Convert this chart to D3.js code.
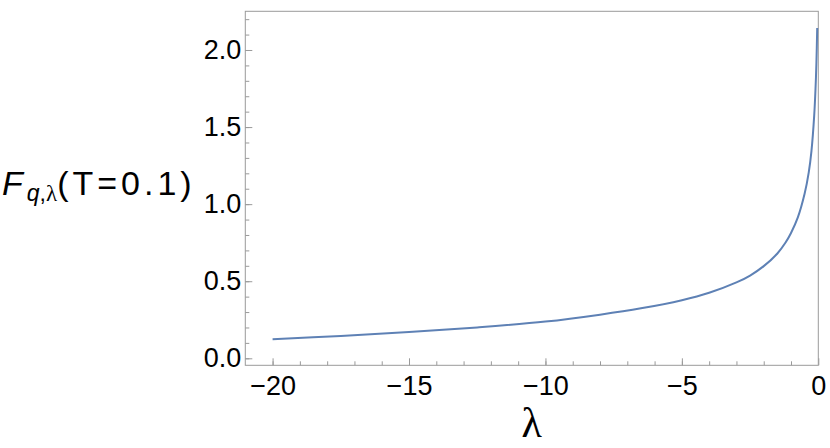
<!DOCTYPE html>
<html>
<head>
<meta charset="utf-8">
<script src="https://cdn.jsdelivr.net/npm/d3@7"></script>
<style>
  body { margin: 0; background: #fff; }
  svg { display: block; }
</style>
</head>
<body>
<script>
// values
var lambdaVals = [-20, -17.5, -15, -12.5, -10, -8, -6.5, -5, -4, -3, -2.5, -2, -1.5, -1.2, -1, -0.75, -0.5, -0.35, -0.25, -0.15, -0.1, -0.07, -0.04];
var fVals      = [0.123, 0.145, 0.170, 0.200, 0.238, 0.283, 0.324, 0.377, 0.425, 0.492, 0.537, 0.598, 0.680, 0.751, 0.813, 0.914, 1.069, 1.206, 1.346, 1.576, 1.758, 1.911, 2.143];
var xTicks = [-20, -15, -10, -5, 0];
var yTicks = [0, 0.5, 1, 1.5, 2];

var width = 830,
    height = 448,
    margin = {left: 245.3, right: 11.7, top: 11.3, bottom: 82.7};

var x = d3.scaleLinear()
        .domain([-21, 0])
        .range([margin.left, width - margin.right]);

var y = d3.scaleLinear()
        .domain([-0.0454, 2.251])
        .range([height - margin.bottom, margin.top]);

var svg = d3.select("body").append("svg")
        .attr("width", width)
        .attr("height", height)
        .style("font-family", "'Liberation Sans', Arial, sans-serif");

var tickColor = "#9a9a9a";

// minor ticks
svg.append("g")
    .attr("transform", "translate(0," + y.range()[0] + ")")
    .call(d3.axisBottom(x).tickValues(d3.range(-20, 0, 1)).tickSize(-4).tickFormat(""))
    .call(function (g) { g.select(".domain").remove(); g.selectAll("line").attr("stroke", tickColor); });

svg.append("g")
    .attr("transform", "translate(" + x.range()[0] + ",0)")
    .call(d3.axisLeft(y).tickValues(d3.range(0, 2.25, 0.1)).tickSize(-4).tickFormat(""))
    .call(function (g) { g.select(".domain").remove(); g.selectAll("line").attr("stroke", tickColor); });

// major ticks + labels
var xAxis = svg.append("g")
    .attr("transform", "translate(0," + y.range()[0] + ")")
    .call(d3.axisBottom(x).tickValues(xTicks).tickSize(-7).tickPadding(11)
        .tickFormat(function (d) { return d < 0 ? "\u2212" + Math.abs(d) : "0"; }));
xAxis.select(".domain").remove();
xAxis.selectAll("line").attr("stroke", tickColor);
xAxis.selectAll("text")
    .attr("fill", "#000")
    .style("font-size", "27px")
    .style("font-family", "'Liberation Sans', Arial, sans-serif");

var yAxis = svg.append("g")
    .attr("transform", "translate(" + x.range()[0] + ",0)")
    .call(d3.axisLeft(y).tickValues(yTicks).tickSize(-7).tickPadding(4).tickFormat(d3.format(".1f")));
yAxis.select(".domain").remove();
yAxis.selectAll("line").attr("stroke", tickColor);
yAxis.selectAll("text")
    .attr("fill", "#000")
    .style("font-size", "27px")
    .style("font-family", "'Liberation Sans', Arial, sans-serif");

// frame
svg.append("rect")
    .attr("x", x.range()[0])
    .attr("y", y.range()[1])
    .attr("width", x.range()[1] - x.range()[0])
    .attr("height", y.range()[0] - y.range()[1])
    .attr("fill", "none")
    .attr("stroke", tickColor)
    .attr("stroke-width", 1);

// curve
var pts = lambdaVals.map(function (l, i) { return [l, fVals[i]]; });
var line = d3.line()
    .x(function (d) { return x(d[0]); })
    .y(function (d) { return y(d[1]); })
    .curve(d3.curveCatmullRom.alpha(0.5));

svg.append("path")
    .datum(pts)
    .attr("d", line)
    .attr("fill", "none")
    .attr("stroke", "#5E81B5")
    .attr("stroke-width", 2);

// axis labels
svg.append("text")
    .attr("x", (x.range()[0] + x.range()[1]) / 2)
    .attr("y", 437)
    .attr("text-anchor", "middle")
    .style("font-family", "'Liberation Serif', 'Times New Roman', serif")
    .style("font-size", "42px")
    .text("\u03bb");

var yl = svg.append("text")
    .attr("x", 2)
    .attr("y", 195)
    .style("font-size", "34px");
yl.append("tspan").style("font-style", "italic").text("F");
yl.append("tspan").attr("dx", 4).attr("dy", 6).style("font-size", "23px").style("font-style", "italic").text("q");
yl.append("tspan").style("font-size", "23px").text(",");
yl.append("tspan").style("font-size", "23px").style("font-family", "'Liberation Serif', serif").text("\u03bb");
yl.append("tspan").attr("dy", -6).style("letter-spacing", "4px").text("(T=0.1)");
</script>
</body>
</html>
